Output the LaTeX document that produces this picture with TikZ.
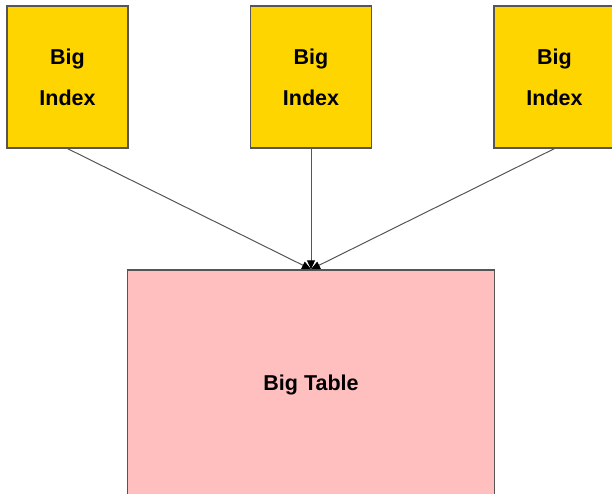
\documentclass[tikz,border=0pt]{standalone}
\usepackage{fontspec}
\setmainfont{Liberation Sans}
\usepackage{tikz}
\usetikzlibrary{arrows.meta}
\definecolor{idxyellow}{HTML}{FFD500}
\definecolor{tblpink}{HTML}{FFBFBF}
\definecolor{edgegray}{HTML}{555555}
\tikzset{
  index/.style={draw=edgegray,line width=1.2pt,fill=idxyellow,minimum width=121pt,minimum height=142pt,
    align=center,inner sep=0pt,text depth=-12pt,font=\fontsize{21.5}{41}\selectfont\bfseries},
  bigtable/.style={draw=edgegray,line width=1.5pt,fill=tblpink,minimum width=367pt,minimum height=230pt,
    inner sep=0pt,font=\fontsize{21.5}{24}\selectfont\bfseries},
  link/.style={draw=edgegray,line width=1pt,-{Triangle[length=9pt,width=8pt,color=black]}}
}

\begin{document}
\begin{tikzpicture}[x=1pt,y=-1pt]
\useasboundingbox (0,0) rectangle (612,494);
\clip (0,0) rectangle (612,494);
\node[index] (idxA) at (67.5,77) {Big\\Index};
\node[index] (idxB) at (311,77) {Big\\Index};
\node[index] (idxC) at (554.5,77) {Big\\Index};
\node[bigtable] (table) at (311,385) {Big Table};
\draw[link] (idxA.south) -- (table.north);
\draw[link] (idxB.south) -- (table.north);
\draw[link] (idxC.south) -- (table.north);
\end{tikzpicture}
\end{document}
